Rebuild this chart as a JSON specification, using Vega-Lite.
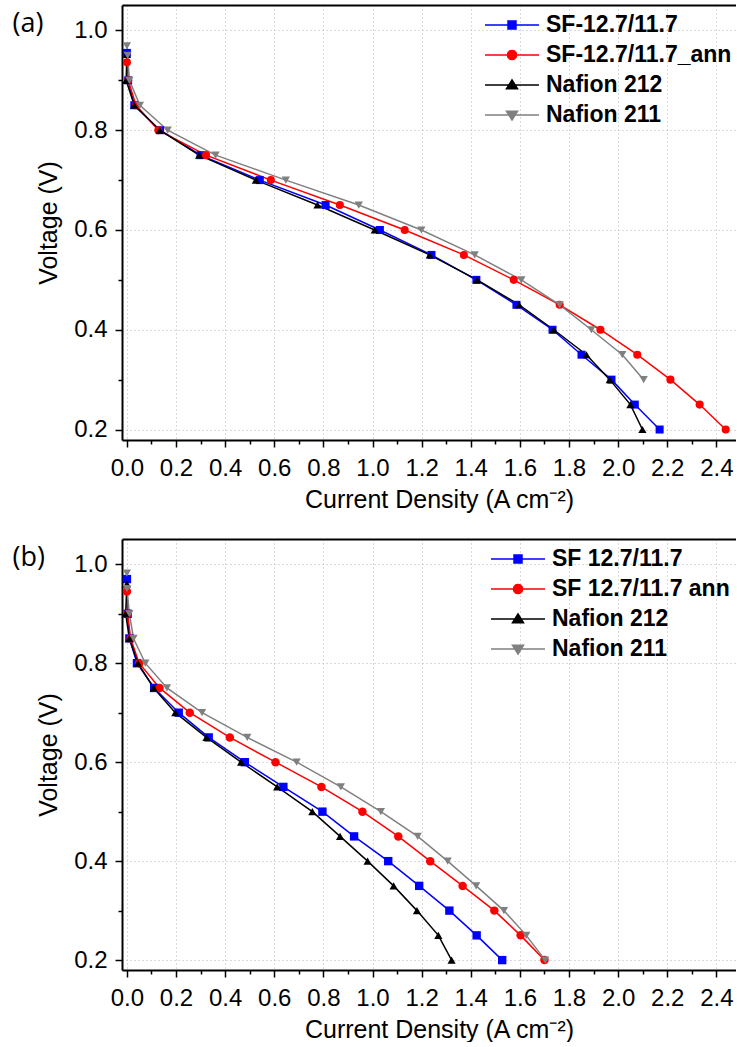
{
  "$schema": "https://vega.github.io/schema/vega-lite/v6.json",
  "background": "white",
  "padding": {"left": 12, "top": 5, "right": 0, "bottom": 0},
  "spacing": 27,
  "config": {
    "view": {"stroke": null},
    "axis": {
      "labelFont": "Liberation Sans", "titleFont": "Liberation Sans",
      "labelFontSize": 24, "titleFontSize": 25, "titleFontWeight": "normal",
      "labelColor": "black", "titleColor": "black",
      "domainColor": "black", "domainWidth": 2, "tickColor": "black", "tickWidth": 1.5,
      "gridColor": "#b4b4b4", "gridDash": [1, 3], "gridWidth": 1,
      "labelOverlap": false, "labelFlush": false, "labelBound": false
    },
    "legend": {
      "labelFont": "Liberation Sans", "labelFontSize": 23, "labelFontWeight": "bold", "labelColor": "black",
      "labelLimit": 400, "padding": 0, "symbolSize": 484, "symbolStrokeWidth": 1.5, "symbolOpacity": 1,
      "labelOffset": 22, "rowPadding": 6, "orient": "none"
    }
  },
  "datasets": {
    "a": [
      {"series": "SF-12.7/11.7", "j": 0.0, "v": 0.955},
      {"series": "SF-12.7/11.7", "j": 0.005, "v": 0.9},
      {"series": "SF-12.7/11.7", "j": 0.03, "v": 0.85},
      {"series": "SF-12.7/11.7", "j": 0.135, "v": 0.8},
      {"series": "SF-12.7/11.7", "j": 0.30, "v": 0.75},
      {"series": "SF-12.7/11.7", "j": 0.541, "v": 0.7},
      {"series": "SF-12.7/11.7", "j": 0.809, "v": 0.65},
      {"series": "SF-12.7/11.7", "j": 1.03, "v": 0.6},
      {"series": "SF-12.7/11.7", "j": 1.24, "v": 0.55},
      {"series": "SF-12.7/11.7", "j": 1.423, "v": 0.5},
      {"series": "SF-12.7/11.7", "j": 1.586, "v": 0.45},
      {"series": "SF-12.7/11.7", "j": 1.733, "v": 0.4},
      {"series": "SF-12.7/11.7", "j": 1.851, "v": 0.35},
      {"series": "SF-12.7/11.7", "j": 1.973, "v": 0.3},
      {"series": "SF-12.7/11.7", "j": 2.068, "v": 0.25},
      {"series": "SF-12.7/11.7", "j": 2.169, "v": 0.2},
      {"series": "SF-12.7/11.7_ann", "j": 0.0, "v": 0.936},
      {"series": "SF-12.7/11.7_ann", "j": 0.005, "v": 0.9},
      {"series": "SF-12.7/11.7_ann", "j": 0.037, "v": 0.85},
      {"series": "SF-12.7/11.7_ann", "j": 0.128, "v": 0.8},
      {"series": "SF-12.7/11.7_ann", "j": 0.322, "v": 0.75},
      {"series": "SF-12.7/11.7_ann", "j": 0.586, "v": 0.7},
      {"series": "SF-12.7/11.7_ann", "j": 0.867, "v": 0.65},
      {"series": "SF-12.7/11.7_ann", "j": 1.131, "v": 0.6},
      {"series": "SF-12.7/11.7_ann", "j": 1.372, "v": 0.55},
      {"series": "SF-12.7/11.7_ann", "j": 1.575, "v": 0.5},
      {"series": "SF-12.7/11.7_ann", "j": 1.762, "v": 0.45},
      {"series": "SF-12.7/11.7_ann", "j": 1.928, "v": 0.4},
      {"series": "SF-12.7/11.7_ann", "j": 2.078, "v": 0.35},
      {"series": "SF-12.7/11.7_ann", "j": 2.213, "v": 0.3},
      {"series": "SF-12.7/11.7_ann", "j": 2.332, "v": 0.25},
      {"series": "SF-12.7/11.7_ann", "j": 2.438, "v": 0.2},
      {"series": "Nafion 212", "j": 0.0, "v": 0.952},
      {"series": "Nafion 212", "j": -0.003, "v": 0.9},
      {"series": "Nafion 212", "j": 0.03, "v": 0.85},
      {"series": "Nafion 212", "j": 0.134, "v": 0.8},
      {"series": "Nafion 212", "j": 0.294, "v": 0.75},
      {"series": "Nafion 212", "j": 0.525, "v": 0.7},
      {"series": "Nafion 212", "j": 0.776, "v": 0.65},
      {"series": "Nafion 212", "j": 1.009, "v": 0.6},
      {"series": "Nafion 212", "j": 1.233, "v": 0.55},
      {"series": "Nafion 212", "j": 1.426, "v": 0.5},
      {"series": "Nafion 212", "j": 1.597, "v": 0.45},
      {"series": "Nafion 212", "j": 1.738, "v": 0.4},
      {"series": "Nafion 212", "j": 1.871, "v": 0.35},
      {"series": "Nafion 212", "j": 1.966, "v": 0.3},
      {"series": "Nafion 212", "j": 2.05, "v": 0.25},
      {"series": "Nafion 212", "j": 2.099, "v": 0.2},
      {"series": "Nafion 211", "j": 0.0, "v": 0.969},
      {"series": "Nafion 211", "j": 0.003, "v": 0.95},
      {"series": "Nafion 211", "j": 0.01, "v": 0.9},
      {"series": "Nafion 211", "j": 0.053, "v": 0.85},
      {"series": "Nafion 211", "j": 0.166, "v": 0.8},
      {"series": "Nafion 211", "j": 0.361, "v": 0.75},
      {"series": "Nafion 211", "j": 0.647, "v": 0.7},
      {"series": "Nafion 211", "j": 0.944, "v": 0.65},
      {"series": "Nafion 211", "j": 1.199, "v": 0.6},
      {"series": "Nafion 211", "j": 1.416, "v": 0.55},
      {"series": "Nafion 211", "j": 1.606, "v": 0.5},
      {"series": "Nafion 211", "j": 1.762, "v": 0.45},
      {"series": "Nafion 211", "j": 1.891, "v": 0.4},
      {"series": "Nafion 211", "j": 2.017, "v": 0.35},
      {"series": "Nafion 211", "j": 2.104, "v": 0.3}
    ],
    "b": [
      {"series": "SF 12.7/11.7", "j": 0.0, "v": 0.97},
      {"series": "SF 12.7/11.7", "j": 0.003, "v": 0.9},
      {"series": "SF 12.7/11.7", "j": 0.01, "v": 0.85},
      {"series": "SF 12.7/11.7", "j": 0.041, "v": 0.8},
      {"series": "SF 12.7/11.7", "j": 0.111, "v": 0.75},
      {"series": "SF 12.7/11.7", "j": 0.211, "v": 0.7},
      {"series": "SF 12.7/11.7", "j": 0.333, "v": 0.65},
      {"series": "SF 12.7/11.7", "j": 0.48, "v": 0.6},
      {"series": "SF 12.7/11.7", "j": 0.637, "v": 0.55},
      {"series": "SF 12.7/11.7", "j": 0.796, "v": 0.5},
      {"series": "SF 12.7/11.7", "j": 0.925, "v": 0.45},
      {"series": "SF 12.7/11.7", "j": 1.064, "v": 0.4},
      {"series": "SF 12.7/11.7", "j": 1.19, "v": 0.35},
      {"series": "SF 12.7/11.7", "j": 1.313, "v": 0.3},
      {"series": "SF 12.7/11.7", "j": 1.424, "v": 0.25},
      {"series": "SF 12.7/11.7", "j": 1.528, "v": 0.2},
      {"series": "SF 12.7/11.7 ann", "j": 0.0, "v": 0.945},
      {"series": "SF 12.7/11.7 ann", "j": 0.003, "v": 0.9},
      {"series": "SF 12.7/11.7 ann", "j": 0.015, "v": 0.85},
      {"series": "SF 12.7/11.7 ann", "j": 0.05, "v": 0.8},
      {"series": "SF 12.7/11.7 ann", "j": 0.133, "v": 0.75},
      {"series": "SF 12.7/11.7 ann", "j": 0.256, "v": 0.7},
      {"series": "SF 12.7/11.7 ann", "j": 0.419, "v": 0.65},
      {"series": "SF 12.7/11.7 ann", "j": 0.605, "v": 0.6},
      {"series": "SF 12.7/11.7 ann", "j": 0.792, "v": 0.55},
      {"series": "SF 12.7/11.7 ann", "j": 0.959, "v": 0.5},
      {"series": "SF 12.7/11.7 ann", "j": 1.105, "v": 0.45},
      {"series": "SF 12.7/11.7 ann", "j": 1.235, "v": 0.4},
      {"series": "SF 12.7/11.7 ann", "j": 1.367, "v": 0.35},
      {"series": "SF 12.7/11.7 ann", "j": 1.496, "v": 0.3},
      {"series": "SF 12.7/11.7 ann", "j": 1.603, "v": 0.25},
      {"series": "SF 12.7/11.7 ann", "j": 1.70, "v": 0.2},
      {"series": "Nafion 212", "j": 0.0, "v": 0.96},
      {"series": "Nafion 212", "j": -0.005, "v": 0.9},
      {"series": "Nafion 212", "j": 0.01, "v": 0.85},
      {"series": "Nafion 212", "j": 0.045, "v": 0.8},
      {"series": "Nafion 212", "j": 0.109, "v": 0.75},
      {"series": "Nafion 212", "j": 0.197, "v": 0.7},
      {"series": "Nafion 212", "j": 0.324, "v": 0.65},
      {"series": "Nafion 212", "j": 0.465, "v": 0.6},
      {"series": "Nafion 212", "j": 0.612, "v": 0.55},
      {"series": "Nafion 212", "j": 0.755, "v": 0.5},
      {"series": "Nafion 212", "j": 0.868, "v": 0.45},
      {"series": "Nafion 212", "j": 0.98, "v": 0.4},
      {"series": "Nafion 212", "j": 1.086, "v": 0.35},
      {"series": "Nafion 212", "j": 1.181, "v": 0.3},
      {"series": "Nafion 212", "j": 1.268, "v": 0.25},
      {"series": "Nafion 212", "j": 1.322, "v": 0.2},
      {"series": "Nafion 211", "j": 0.0, "v": 0.982},
      {"series": "Nafion 211", "j": 0.0, "v": 0.951},
      {"series": "Nafion 211", "j": 0.01, "v": 0.9},
      {"series": "Nafion 211", "j": 0.027, "v": 0.85},
      {"series": "Nafion 211", "j": 0.075, "v": 0.8},
      {"series": "Nafion 211", "j": 0.163, "v": 0.75},
      {"series": "Nafion 211", "j": 0.306, "v": 0.7},
      {"series": "Nafion 211", "j": 0.49, "v": 0.65},
      {"series": "Nafion 211", "j": 0.691, "v": 0.6},
      {"series": "Nafion 211", "j": 0.871, "v": 0.55},
      {"series": "Nafion 211", "j": 1.034, "v": 0.5},
      {"series": "Nafion 211", "j": 1.184, "v": 0.45},
      {"series": "Nafion 211", "j": 1.306, "v": 0.4},
      {"series": "Nafion 211", "j": 1.422, "v": 0.35},
      {"series": "Nafion 211", "j": 1.535, "v": 0.3},
      {"series": "Nafion 211", "j": 1.626, "v": 0.25},
      {"series": "Nafion 211", "j": 1.703, "v": 0.2}
    ]
  },
  "vconcat": [
    {
      "width": 614,
      "height": 435,
      "data": {"name": "a"},
      "resolve": {"axis": {"x": "independent", "y": "independent"}},
      "layer": [
        {
          "mark": {"type": "line", "strokeWidth": 1.5},
          "encoding": {
            "x": {"field": "j", "type": "quantitative",
              "scale": {"domain": [-0.02, 2.48], "zero": false, "nice": false},
              "axis": {
                "values": [0, 0.1, 0.2, 0.3, 0.4, 0.5, 0.6, 0.7, 0.8, 0.9, 1.0, 1.1, 1.2, 1.3, 1.4, 1.5, 1.6, 1.7, 1.8, 1.9, 2.0, 2.1, 2.2, 2.3, 2.4],
                "format": ".1f",
                "labelExpr": "round(datum.value*10) % 2 == 0 ? datum.label : ''",
                "tickSize": {"condition": {"test": "round(datum.value*10) % 2 == 0", "value": 7}, "value": 4},
                "gridOpacity": {"condition": {"test": "round(datum.value*10) % 2 == 0", "value": 1}, "value": 0},
                "grid": true, "labelPadding": 9, "titlePadding": 7, "titleX": 317,
                "title": "Current Density (A cm⁻²)"
              }},
            "y": {"field": "v", "type": "quantitative",
              "scale": {"domain": [0.179, 1.051], "zero": false, "nice": false},
              "axis": {
                "orient": "left",
                "values": [0.2, 0.3, 0.4, 0.5, 0.6, 0.7, 0.8, 0.9, 1.0],
                "format": ".1f",
                "labelExpr": "round(datum.value*10) % 2 == 0 ? datum.label : ''",
                "tickSize": {"condition": {"test": "round(datum.value*10) % 2 == 0", "value": 7}, "value": 4},
                "gridOpacity": {"condition": {"test": "round(datum.value*10) % 2 == 0", "value": 1}, "value": 0},
                "grid": true, "labelPadding": 8, "titlePadding": 12,
                "title": "Voltage (V)"
              }},
            "stroke": {"field": "series", "type": "nominal", "legend": null,
              "scale": {"domain": ["SF-12.7/11.7", "SF-12.7/11.7_ann", "Nafion 212", "Nafion 211", "SF 12.7/11.7", "SF 12.7/11.7 ann"], "range": ["#0000ff", "#ff0000", "#000000", "#808080", "#0000ff", "#ff0000"]}},
            "order": {"field": "v", "sort": "descending"}
          }
        },
        {
          "mark": {"type": "point", "filled": true, "opacity": 1},
          "encoding": {
            "x": {"field": "j", "type": "quantitative",
              "axis": {"orient": "top", "labels": false, "ticks": false, "grid": false, "title": null, "domainWidth": 2}},
            "y": {"field": "v", "type": "quantitative",
              "axis": {"orient": "left", "domain": false, "ticks": false, "labels": false, "grid": false,
                "title": "(a)", "titleAngle": 0, "titleX": -110, "titleY": 5, "titleAlign": "left", "titleBaseline": "top",
                "titleFont": "Open Sans", "titleFontSize": 27, "titlePadding": 0}},
            "fill": {"field": "series", "type": "nominal",
              "scale": {"domain": ["SF-12.7/11.7", "SF-12.7/11.7_ann", "Nafion 212", "Nafion 211"], "range": ["#0000ff", "#ff0000", "#000000", "#808080"]},
              "legend": {
                "title": null, "orient": "none", "legendX": 378, "legendY": 8,
                "encode": {"symbols": {"update": {
                  "stroke": {"scale": "fill", "field": "value"},
                  "shape": {"signal": "['M-2.4545,0H2.4545M-0.3636,-0.3636H0.3636V0.3636H-0.3636Z','M-2.4545,0H2.4545M0.418,0L0.362,0.209L0.209,0.362L0,0.418L-0.209,0.362L-0.362,0.209L-0.418,0L-0.362,-0.209L-0.209,-0.362L0,-0.418L0.209,-0.362L0.362,-0.209Z','M-2.4545,0H2.4545M0,-0.464L0.5,0.345L-0.5,0.345Z','M-2.4545,0H2.4545M0,0.464L0.5,-0.345L-0.5,-0.345Z'][datum.index]"}}}}
              }},
            "shape": {"field": "series", "type": "nominal", "legend": null,
              "scale": {"domain": ["SF-12.7/11.7", "SF-12.7/11.7_ann", "Nafion 212", "Nafion 211", "SF 12.7/11.7", "SF 12.7/11.7 ann"], "range": ["square", "circle", "triangle-up", "triangle-down", "square", "circle"]}},
            "size": {"field": "series", "type": "nominal", "legend": null,
              "scale": {"domain": ["SF-12.7/11.7", "SF-12.7/11.7_ann", "Nafion 212", "Nafion 211", "SF 12.7/11.7", "SF 12.7/11.7 ann"], "range": [64, 72, 140, 140, 64, 72]}}
          }
        }
      ]
    },
    {
      "width": 614,
      "height": 431,
      "data": {"name": "b"},
      "resolve": {"axis": {"x": "independent", "y": "independent"}},
      "layer": [
        {
          "mark": {"type": "line", "strokeWidth": 1.5},
          "encoding": {
            "x": {"field": "j", "type": "quantitative",
              "scale": {"domain": [-0.02, 2.48], "zero": false, "nice": false},
              "axis": {
                "values": [0, 0.1, 0.2, 0.3, 0.4, 0.5, 0.6, 0.7, 0.8, 0.9, 1.0, 1.1, 1.2, 1.3, 1.4, 1.5, 1.6, 1.7, 1.8, 1.9, 2.0, 2.1, 2.2, 2.3, 2.4],
                "format": ".1f",
                "labelExpr": "round(datum.value*10) % 2 == 0 ? datum.label : ''",
                "tickSize": {"condition": {"test": "round(datum.value*10) % 2 == 0", "value": 7}, "value": 4},
                "gridOpacity": {"condition": {"test": "round(datum.value*10) % 2 == 0", "value": 1}, "value": 0},
                "grid": true, "labelPadding": 9, "titlePadding": 7, "titleX": 317,
                "title": "Current Density (A cm⁻²)"
              }},
            "y": {"field": "v", "type": "quantitative",
              "scale": {"domain": [0.18, 1.051], "zero": false, "nice": false},
              "axis": {
                "orient": "left",
                "values": [0.2, 0.3, 0.4, 0.5, 0.6, 0.7, 0.8, 0.9, 1.0],
                "format": ".1f",
                "labelExpr": "round(datum.value*10) % 2 == 0 ? datum.label : ''",
                "tickSize": {"condition": {"test": "round(datum.value*10) % 2 == 0", "value": 7}, "value": 4},
                "gridOpacity": {"condition": {"test": "round(datum.value*10) % 2 == 0", "value": 1}, "value": 0},
                "grid": true, "labelPadding": 8, "titlePadding": 12,
                "title": "Voltage (V)"
              }},
            "stroke": {"field": "series", "type": "nominal", "legend": null,
              "scale": {"domain": ["SF-12.7/11.7", "SF-12.7/11.7_ann", "Nafion 212", "Nafion 211", "SF 12.7/11.7", "SF 12.7/11.7 ann"], "range": ["#0000ff", "#ff0000", "#000000", "#808080", "#0000ff", "#ff0000"]}},
            "order": {"field": "v", "sort": "descending"}
          }
        },
        {
          "mark": {"type": "point", "filled": true, "opacity": 1},
          "encoding": {
            "x": {"field": "j", "type": "quantitative",
              "axis": {"orient": "top", "labels": false, "ticks": false, "grid": false, "title": null, "domainWidth": 2}},
            "y": {"field": "v", "type": "quantitative",
              "axis": {"orient": "left", "domain": false, "ticks": false, "labels": false, "grid": false,
                "title": "(b)", "titleAngle": 0, "titleX": -110, "titleY": 5, "titleAlign": "left", "titleBaseline": "top",
                "titleFont": "Open Sans", "titleFontSize": 27, "titlePadding": 0}},
            "color": {"field": "series", "type": "nominal",
              "scale": {"domain": ["SF 12.7/11.7", "SF 12.7/11.7 ann", "Nafion 212", "Nafion 211"], "range": ["#0000ff", "#ff0000", "#000000", "#808080"]},
              "legend": {
                "title": null, "orient": "none", "legendX": 384, "legendY": 542,
                "encode": {"symbols": {"update": {
                  "stroke": {"scale": "color", "field": "value"},
                  "shape": {"signal": "['M-2.4545,0H2.4545M-0.3636,-0.3636H0.3636V0.3636H-0.3636Z','M-2.4545,0H2.4545M0.418,0L0.362,0.209L0.209,0.362L0,0.418L-0.209,0.362L-0.362,0.209L-0.418,0L-0.362,-0.209L-0.209,-0.362L0,-0.418L0.209,-0.362L0.362,-0.209Z','M-2.4545,0H2.4545M0,-0.464L0.5,0.345L-0.5,0.345Z','M-2.4545,0H2.4545M0,0.464L0.5,-0.345L-0.5,-0.345Z'][datum.index]"}}}}
              }},
            "shape": {"field": "series", "type": "nominal", "legend": null,
              "scale": {"domain": ["SF-12.7/11.7", "SF-12.7/11.7_ann", "Nafion 212", "Nafion 211", "SF 12.7/11.7", "SF 12.7/11.7 ann"], "range": ["square", "circle", "triangle-up", "triangle-down", "square", "circle"]}},
            "size": {"field": "series", "type": "nominal", "legend": null,
              "scale": {"domain": ["SF-12.7/11.7", "SF-12.7/11.7_ann", "Nafion 212", "Nafion 211", "SF 12.7/11.7", "SF 12.7/11.7 ann"], "range": [64, 72, 140, 140, 64, 72]}}
          }
        }
      ]
    }
  ]
}
